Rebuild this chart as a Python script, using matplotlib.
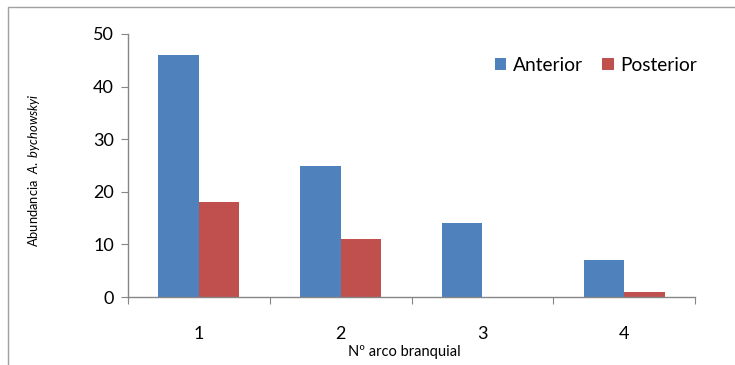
import matplotlib
matplotlib.use("Agg")
import matplotlib.pyplot as plt
from matplotlib.patches import Rectangle
import numpy as np

categories = ["1", "2", "3", "4"]
anterior = [46, 25, 14, 7]
posterior = [18, 11, 0, 1]
series_names = ["Anterior", "Posterior"]
yticks = [0, 10, 20, 30, 40, 50]

FONT = "Lato"
plt.rcParams['font.family'] = [FONT, 'DejaVu Sans']
plt.rcParams['mathtext.fontset'] = 'custom'
plt.rcParams['mathtext.rm'] = FONT
plt.rcParams['mathtext.it'] = FONT + ':italic'

blue = "#4F81BD"
red = "#C0504D"
grey = "#868686"

fig = plt.figure(figsize=(7.35, 3.65), dpi=100)
ax = fig.add_axes([128/735, 1-297/365, (695-128)/735, (297-34)/365])

x = np.arange(1, len(categories) + 1)
w = 1/3.5
ax.bar(x - w/2, anterior, width=w, color=blue, label=series_names[0], zorder=2)
ax.bar(x + w/2, posterior, width=w, color=red, label=series_names[1], zorder=2)

ax.set_xlim(0.5, len(categories) + 0.5)
ax.set_ylim(0, 50)
ax.set_yticks(yticks)
ax.set_yticklabels([str(v) for v in yticks], fontsize=13)
ax.set_xticks(np.arange(0.5, len(categories) + 1, 1))
ax.set_xticklabels([])
ax.set_xticks(x, minor=True)
ax.set_xticklabels(categories, minor=True, fontsize=13)
ax.tick_params(axis='x', which='minor', length=0, pad=21)
ax.tick_params(axis='x', which='major', length=5, color=grey, direction='out')
ax.tick_params(axis='y', length=5, color=grey, direction='out', pad=5)

for s in ['top', 'right']:
    ax.spines[s].set_visible(False)
for s in ['left', 'bottom']:
    ax.spines[s].set_color(grey)
    ax.spines[s].set_linewidth(1.0)

ax.set_ylabel(r"Abundancia  $\it{A.\ bychowskyi}$", fontsize=9.3)
ax.yaxis.set_label_coords(-(128-42)/567, 0.483)
fig.text(404/735, 1-352/365, "Nº arco branquial", fontsize=10.5, ha='center', va='center')

leg = ax.legend(loc='upper right', bbox_to_anchor=(1.0035, 0.912), ncol=2, frameon=False,
                fontsize=13.8, handlelength=0.6, handleheight=0.6, handletextpad=0.35,
                columnspacing=1.0, borderaxespad=0, borderpad=0)

fig.patches.append(Rectangle((8/735, -0.1), 1.2, 1-7/365+0.1, transform=fig.transFigure,
                             fill=False, edgecolor="#A0A0A0", linewidth=1.0))

fig.savefig("out.png", dpi=100)
